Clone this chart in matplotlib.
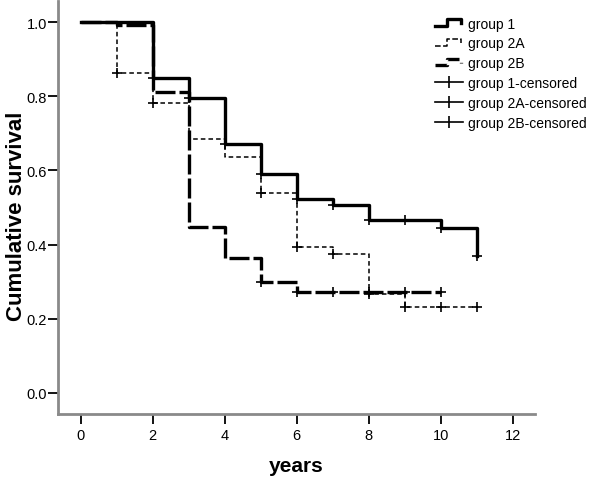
import matplotlib
matplotlib.use("Agg")
import matplotlib.pyplot as plt
from matplotlib.lines import Line2D
from matplotlib.legend_handler import HandlerBase

plt.rcParams['font.family'] = ['Liberation Sans', 'DejaVu Sans']

# Kaplan-Meier steps
g1_times = [0, 2, 3, 4, 5, 6, 7, 8, 10, 11]
g1_surv = [1.0, 0.848, 0.796, 0.670, 0.590, 0.523, 0.507, 0.467, 0.444, 0.370]
g1_end = 11
g1_cens = [2, 3, 4, 5, 6, 7, 8, 9, 10, 11]

g2a_times = [0, 1, 2, 3, 4, 5, 6, 7, 8, 9]
g2a_surv = [1.0, 0.864, 0.783, 0.685, 0.637, 0.539, 0.394, 0.375, 0.267, 0.232]
g2a_end = 11
g2a_cens = [1, 2, 5, 6, 7, 8, 9, 10, 11]

g2b_times = [0, 1, 2, 3, 4, 5, 6]
g2b_surv = [1.0, 0.992, 0.812, 0.448, 0.363, 0.300, 0.273]
g2b_end = 10
g2b_cens = [5, 6, 7, 8, 9, 10]

labels = ['group 1', 'group 2A', 'group 2B',
          'group 1-censored', 'group 2A-censored', 'group 2B-censored']


def surv_at(times, surv, t):
    s = surv[0]
    for ti, si in zip(times, surv):
        if ti <= t:
            s = si
    return s


class StepHandler(HandlerBase):
    def create_artists(self, legend, orig_handle, xdescent, ydescent,
                       width, height, fontsize, trans):
        xs = [0, 0.45 * width, 0.45 * width, 0.95 * width, 0.95 * width]
        ys = [0.2 * height, 0.2 * height, 0.85 * height, 0.85 * height, 0.45 * height]
        xs = [x - xdescent for x in xs]
        ys = [y - ydescent for y in ys]
        line = Line2D(xs, ys, color='black', lw=orig_handle.get_linewidth(),
                      linestyle=orig_handle.get_linestyle())
        line.set_transform(trans)
        return [line]


fig = plt.figure(figsize=(6, 4.81), dpi=100)
ax = fig.add_axes([0.0967, 0.137, 0.795, 0.859])

groups = [
    (g1_times, g1_surv, g1_end, g1_cens, dict(lw=2.4, ls='-')),
    (g2a_times, g2a_surv, g2a_end, g2a_cens, dict(lw=1.1, ls=(0, (3, 2)))),
    (g2b_times, g2b_surv, g2b_end, g2b_cens, dict(lw=2.4, ls=(0, (6, 1.2)))),
]

line_handles = []
for times, surv, end, cens, style in groups:
    xs = list(times) + [end]
    ys = list(surv) + [surv[-1]]
    ln, = ax.step(xs, ys, where='post', color='black', **style)
    line_handles.append(ln)

cens_handles = []
for times, surv, end, cens, style in groups:
    cy = [surv_at(times, surv, c) for c in cens]
    ax.plot(cens, cy, ls='none', marker='+', color='black',
            markersize=7, mew=1.2)
    cens_handles.append(Line2D([], [], color='black', lw=1.2, marker='|',
                               markersize=9, mew=1.2))

ax.set_xlim(-0.63, 12.62)
ax.set_ylim(-0.057, 1.057)
ax.set_xticks([0, 2, 4, 6, 8, 10, 12])
ax.set_yticks([0.0, 0.2, 0.4, 0.6, 0.8, 1.0])
ax.set_yticklabels(['0.0', '0.2', '0.4', '0.6', '0.8', '1.0'])

for side in ['top', 'right']:
    ax.spines[side].set_visible(False)
for side in ['left', 'bottom']:
    ax.spines[side].set_color('#8a8a8a')
    ax.spines[side].set_linewidth(2.0)

ax.tick_params(axis='x', direction='out', length=7, width=1.3,
               labelsize=10.5, pad=3)
ax.tick_params(axis='y', direction='out', length=7, width=1.3,
               labelsize=10.5, pad=1)

ax.set_xlabel('years', fontsize=15, fontweight='bold', labelpad=10)
ax.set_ylabel('Cumulative survival', fontsize=16, fontweight='bold')
ax.yaxis.set_label_coords(-0.066, 0.48)

ax.legend(line_handles + cens_handles, labels,
          handler_map={h: StepHandler() for h in line_handles},
          loc='upper left', bbox_to_anchor=(0.79, 0.962),
          frameon=False, fontsize=10, handlelength=2.0,
          handletextpad=0.4, labelspacing=0.42, borderpad=0,
          borderaxespad=0)

fig.savefig('out.png', dpi=100)
